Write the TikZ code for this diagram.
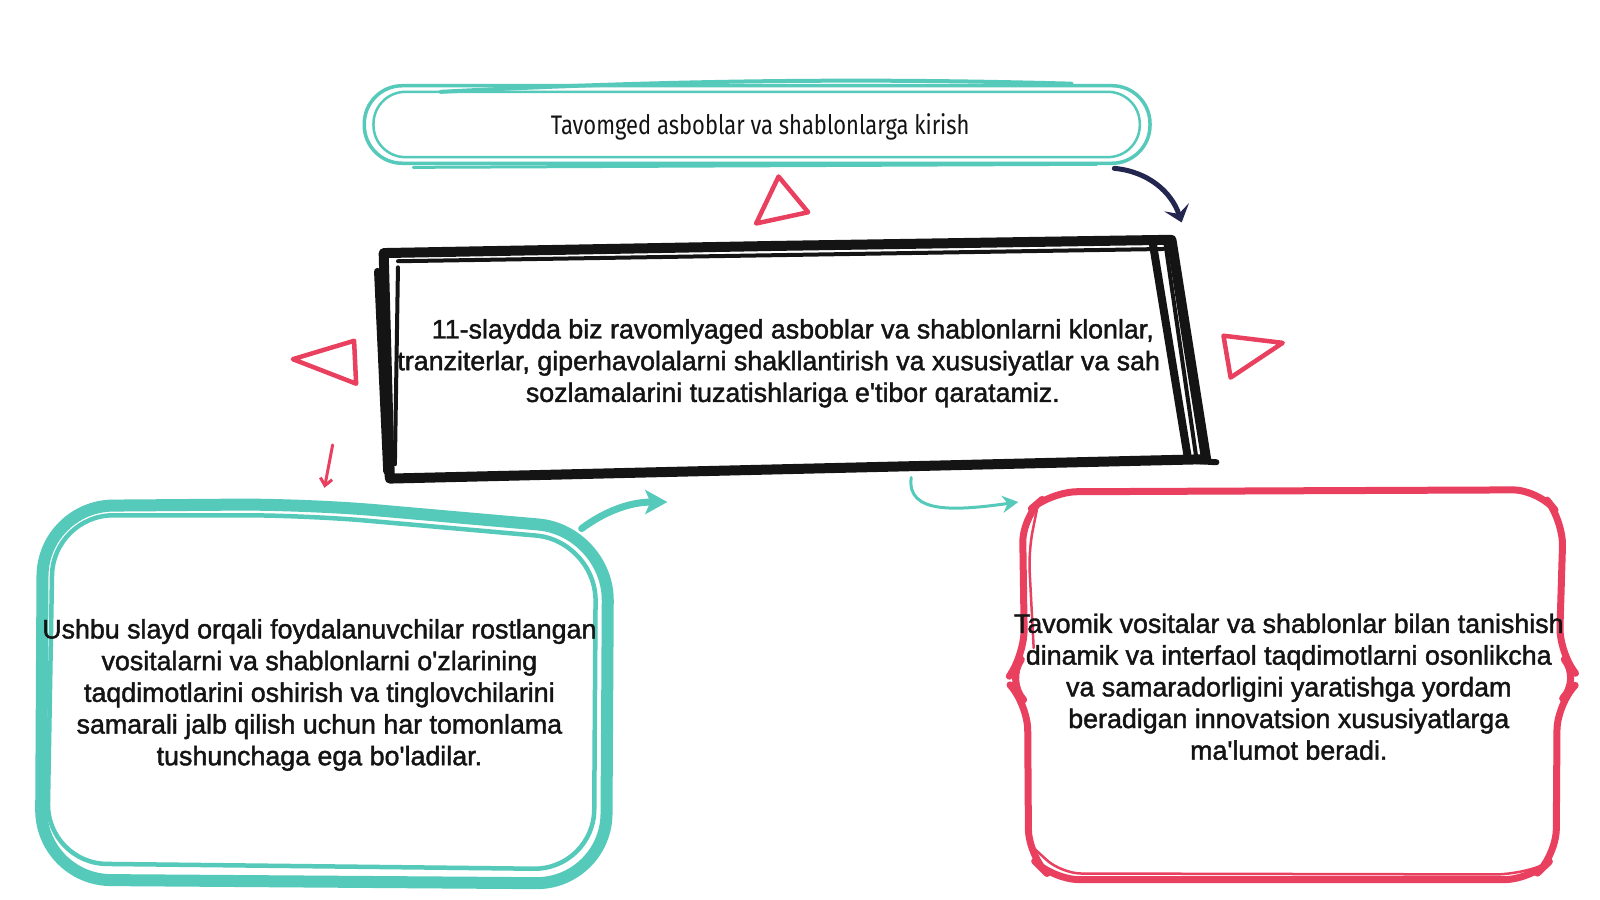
\documentclass[tikz,border=0pt]{standalone}
\usepackage{fontspec}
\usetikzlibrary{arrows.meta}
\newfontfamily\bodyfont[FakeBold=1.6]{Liberation Sans}
\newfontfamily\titlefont[FakeStretch=0.82]{Fira Sans}
\definecolor{teal1}{HTML}{55C9BA}
\definecolor{red1}{HTML}{E8405E}
\definecolor{navy1}{HTML}{23264F}
\definecolor{ink}{HTML}{141414}
\tikzset{
  bodytext/.style={align=center, text=ink, font=\bodyfont\fontsize{26.8}{31.7}\selectfont, inner sep=0pt},
  titletext/.style={text=ink, font=\titlefont\fontsize{26.8}{30}\selectfont, inner sep=0pt},
  tealline/.style={draw=teal1, line cap=round, line join=round},
  redline/.style={draw=red1, line cap=round, line join=round},
  blackline/.style={draw=ink, line cap=round, line join=round},
  tri/.style={draw=red1, line width=4.5pt, line join=round, fill=none},
}
\begin{document}
\begin{tikzpicture}[x=1.0204pt,y=-1.0204pt]
\useasboundingbox (0,0) rectangle (1568,882);
\fill[white] (0,0) rectangle (1568,882);

% ---------- top box ----------
\draw[tealline, line width=3.5pt, rounded corners=38pt] (357,84) rectangle (1127,160);
\draw[tealline, line width=2.5pt, rounded corners=32pt] (366,90) rectangle (1117,154);
\draw[tealline, line width=4pt] (432,90) .. controls (700,76) and (900,78) .. (1050,82);
\draw[tealline, line width=3pt] (405,164) -- (1075,161);
\node[titletext] (title) at (745,124) {Tavomged asboblar va shablonlarga kirish};

% navy arrow
\coordinate (na1) at (1092,165);
\coordinate (na2) at (1158,218);
\draw[navy1, line width=5pt, line cap=round, -{Stealth[length=16pt,width=26pt,inset=7pt]}]
  (na1) .. controls (1125,168) and (1148,188) .. (na2);

% ---------- red triangles ----------
\draw[tri] (741,219) -- (763,173) -- (792,208) -- cycle;
\draw[tri] (287,352) -- (347,334) -- (349,376) -- cycle;
\draw[tri] (1199,329) -- (1257,336) -- (1206,370) -- cycle;

% ---------- main text ----------
\node[bodytext] (main) at (777,356)
  {11-slaydda biz ravomlyaged asboblar va shablonlarni klonlar,\\
   tranziterlar, giperhavolalarni shakllantirish va xususiyatlar va sah\hphantom{ifa}\\
   sozlamalarini tuzatishlariga e'tibor qaratamiz.};

% ---------- main black box ----------
\draw[blackline, line width=10pt]
  (760,241) -- (1148,235) -- (1182,450) -- (382,469) -- (376,248) -- cycle;
\draw[blackline, line width=7pt] (370,266) -- (379,462);
\draw[blackline, line width=4pt] (390,262) -- (387,455);
\draw[blackline, line width=8pt] (1130,240) -- (1164,448);
\draw[blackline, line width=4pt] (1142,238) -- (1172,446);
\draw[blackline, line width=4pt] (390,256) -- (1140,244);
\draw[blackline, line width=6pt] (1160,451) -- (1192,453);

% small red arrow
\coordinate (ra1) at (326,436);
\coordinate (ra2) at (318,478);
\draw[red1, line width=3pt, line cap=round, -{Straight Barb[length=7pt,width=12pt,line width=3pt]}] (ra1) -- (ra2);

% teal arrow up-right
\coordinate (ta1) at (570,518);
\coordinate (ta2) at (654,492);
\draw[teal1, line width=7pt, line cap=round, -{Stealth[length=22pt,width=24pt,inset=5pt]}]
  (ta1) .. controls (590,503) and (615,492) .. (ta2);

% teal small arrow
\coordinate (tb1) at (893,468);
\coordinate (tb2) at (998,492);
\draw[teal1, line width=3pt, line cap=round, -{Stealth[length=16pt,width=17pt]}]
  (tb1) .. controls (888,505) and (940,500) .. (tb2);

% ---------- left teal box ----------
\draw[tealline, line width=12pt, rounded corners=70pt]
  (300,494) -- (596,520) -- (594,866) -- (40,862) -- (42,496) -- cycle;
\draw[tealline, line width=4.5pt, rounded corners=60pt]
  (300,505) -- (584,530) -- (582,852) -- (46,846) -- (52,505) -- cycle;
\node[bodytext] (left) at (313,681)
  {Ushbu slayd orqali foydalanuvchilar rostlangan\\
   vositalarni va shablonlarni o'zlarining\\
   taqdimotlarini oshirish va tinglovchilarini\\
   samarali jalb qilish uchun har tomonlama\\
   tushunchaga ega bo'ladilar.};

% ---------- right red box ----------
\draw[redline, line width=7pt, rounded corners=26pt]
  (1260,481) -- (1508,480) -- (1532,510) -- (1528,640) -- (1549,666) -- (1526,690) -- (1525,838) -- (1500,862) -- (1032,862) -- (1008,838) -- (1007,690) -- (986,667) -- (1004,642) -- (1002,506) -- (1030,482) -- cycle;
\draw[redline, line width=2.5pt, rounded corners=20pt]
  (1016,500) -- (1008,540) -- (1013,635);
\draw[redline, line width=2.5pt, rounded corners=20pt]
  (1518,846) -- (1485,857) -- (1040,856) -- (1014,832);
\node[bodytext] (right) at (1263,673)
  {Tavomik vositalar va shablonlar bilan tanishish\\
   dinamik va interfaol taqdimotlarni osonlikcha\\
   va samaradorligini yaratishga yordam\\
   beradigan innovatsion xususiyatlarga\\
   ma'lumot beradi.};
\end{tikzpicture}
\end{document}
